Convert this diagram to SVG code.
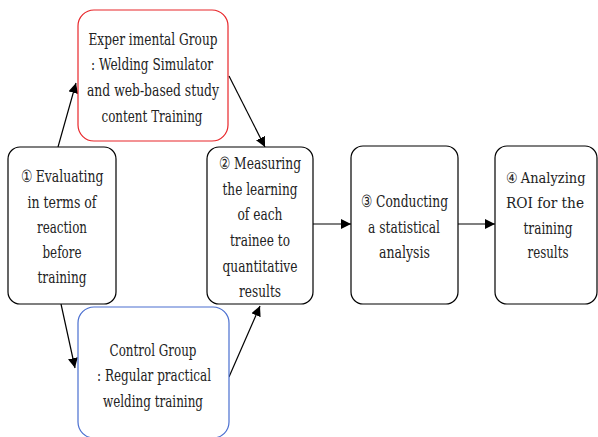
<svg xmlns="http://www.w3.org/2000/svg" width="598" height="437" viewBox="0 0 598 437">
<style>
.box{fill:#fff;stroke:#000;stroke-width:1.2}
.red{stroke:#e8262a}
.blue{stroke:#4a6fd0}
text{font-family:'DejaVu Serif',serif;font-size:16.5px;fill:#222;text-anchor:middle}
.sm{font-size:15px}
.conn line{stroke:#000;stroke-width:1.2}
</style>
<defs>
<marker id="ah" viewBox="0 0 10 10" refX="10" refY="5" markerWidth="10" markerHeight="10" markerUnits="userSpaceOnUse" orient="auto">
<path d="M0,0 L10,5 L0,10 z" fill="#000"/>
</marker>
</defs>
<rect width="598" height="437" fill="#fff"/>
<g id="conns" class="conn">
<line x1="58" y1="147" x2="76" y2="83" marker-end="url(#ah)"/>
<line x1="229" y1="76" x2="265" y2="147" marker-end="url(#ah)"/>
<line x1="61" y1="304" x2="75" y2="368" marker-end="url(#ah)"/>
<line x1="229" y1="377" x2="260" y2="306" marker-end="url(#ah)"/>
<line x1="313" y1="224" x2="351" y2="224" marker-end="url(#ah)"/>
<line x1="458" y1="224" x2="495" y2="224" marker-end="url(#ah)"/>
</g>
<g id="exp">
<rect class="box red" x="78" y="10" width="150" height="131" rx="16"/>
<text x="153" y="45" textLength="129" lengthAdjust="spacingAndGlyphs">Exper imental Group</text>
<text x="152" y="70" textLength="122" lengthAdjust="spacingAndGlyphs">: Welding Simulator</text>
<text x="153" y="96" textLength="132" lengthAdjust="spacingAndGlyphs">and web-based study</text>
<text x="152" y="122" textLength="101" lengthAdjust="spacingAndGlyphs">content Training</text>
</g>
<g id="ctrl">
<rect class="box blue" x="78" y="307" width="151" height="131" rx="16"/>
<text x="153" y="356" textLength="87" lengthAdjust="spacingAndGlyphs">Control Group</text>
<text x="154" y="381" textLength="114" lengthAdjust="spacingAndGlyphs">: Regular practical</text>
<text x="153" y="407" textLength="100" lengthAdjust="spacingAndGlyphs">welding training</text>
</g>
<g id="step1">
<rect class="box" x="8" y="147" width="108" height="157" rx="12"/>
<text x="62" y="182" textLength="83" lengthAdjust="spacingAndGlyphs">① Evaluating</text>
<text x="62" y="208" textLength="69" lengthAdjust="spacingAndGlyphs">in terms of</text>
<text x="62" y="233" textLength="50" lengthAdjust="spacingAndGlyphs">reaction</text>
<text x="62" y="258" textLength="39" lengthAdjust="spacingAndGlyphs">before</text>
<text x="62" y="283" textLength="49" lengthAdjust="spacingAndGlyphs">training</text>
</g>
<g id="step2">
<rect class="box" x="207" y="147" width="106" height="157" rx="12"/>
<text x="260" y="169" textLength="82" lengthAdjust="spacingAndGlyphs">② Measuring</text>
<text x="260" y="195" textLength="75" lengthAdjust="spacingAndGlyphs">the learning</text>
<text x="260" y="220" textLength="45" lengthAdjust="spacingAndGlyphs">of each</text>
<text x="260" y="246" textLength="60" lengthAdjust="spacingAndGlyphs">trainee to</text>
<text x="260" y="272" textLength="75" lengthAdjust="spacingAndGlyphs">quantitative</text>
<text x="260" y="297" textLength="42" lengthAdjust="spacingAndGlyphs">results</text>
</g>
<g id="step3">
<rect class="box" x="351" y="146" width="107" height="158" rx="12"/>
<text x="404.5" y="207" textLength="87" lengthAdjust="spacingAndGlyphs">③ Conducting</text>
<text x="404" y="233" textLength="72" lengthAdjust="spacingAndGlyphs">a statistical</text>
<text x="404.5" y="258" textLength="51" lengthAdjust="spacingAndGlyphs">analysis</text>
</g>
<g id="step4">
<rect class="box" x="495" y="146" width="102" height="158" rx="12"/>
<text class="sm" x="545.5" y="183" textLength="80" lengthAdjust="spacingAndGlyphs">④ Analyzing</text>
<text class="sm" x="545" y="208" textLength="78" lengthAdjust="spacingAndGlyphs">ROI for the</text>
<text x="548" y="234" textLength="49" lengthAdjust="spacingAndGlyphs">training</text>
<text x="548" y="258" textLength="41" lengthAdjust="spacingAndGlyphs">results</text>
</g>
</svg>
